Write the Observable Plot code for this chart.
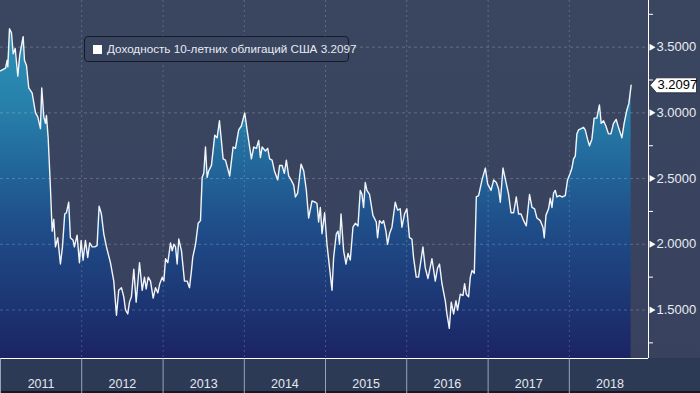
<!DOCTYPE html>
<html><head><meta charset="utf-8">
<script src="https://cdn.jsdelivr.net/npm/d3@7"></script>
<script src="https://cdn.jsdelivr.net/npm/@observablehq/plot@0.6"></script>
<style>
html,body{margin:0;padding:0;background:#39445f;}
#chart{position:relative;width:700px;height:393px;overflow:hidden;font-family:"Liberation Sans",Arial,sans-serif;}
#legend{position:absolute;left:84px;top:36px;width:265px;height:26px;border:1px solid #141b2a;border-radius:4px;background:#39445f;box-sizing:border-box;color:#e8ebf0;font-family:"Liberation Sans",Arial,sans-serif;font-size:11.7px;line-height:24px;white-space:pre;}
#legend .sw{position:absolute;left:8px;top:8px;width:9px;height:9px;background:#fff;}
#legend .tx{position:absolute;left:22px;top:0;}
</style></head><body><div id="chart"></div>
<script>
// decimal-year dates of the observations
const dates = [
2011.000,2011.062,2011.082,2011.090,2011.111,2011.135,2011.156,2011.181,2011.213,2011.237,2011.279,2011.295,2011.320,2011.348,2011.390,2011.431,2011.459,2011.492,2011.508,2011.533,2011.554,2011.566,2011.587,2011.615,2011.636,2011.656,2011.677,2011.705,2011.738,2011.763,2011.791,2011.812,2011.840,2011.861,2011.894,2011.910,2011.943,2011.972,2011.993,
2012.017,2012.046,2012.074,2012.098,2012.128,2012.160,2012.189,2012.214,2012.242,2012.271,2012.304,2012.353,2012.394,2012.427,2012.455,2012.488,2012.517,2012.538,2012.566,2012.587,2012.611,2012.640,2012.669,2012.710,2012.743,2012.771,2012.792,2012.817,2012.845,2012.878,2012.907,2012.935,2012.959,2012.989,
2013.009,2013.030,2013.058,2013.091,2013.112,2013.132,2013.153,2013.173,2013.193,2013.226,2013.263,2013.296,2013.325,2013.349,2013.365,2013.399,2013.432,2013.460,2013.481,2013.501,2013.522,2013.542,2013.562,2013.595,2013.636,2013.665,2013.694,2013.739,2013.768,2013.820,2013.862,2013.891,2013.931,2013.964,
2014.005,2014.034,2014.087,2014.116,2014.149,2014.177,2014.198,2014.219,2014.260,2014.288,2014.312,2014.342,2014.370,2014.411,2014.435,2014.465,2014.493,2014.518,2014.546,2014.576,2014.608,2014.629,2014.657,2014.699,2014.731,2014.764,2014.792,2014.834,2014.875,2014.895,2014.915,2014.936,2014.957,2014.989,
2015.018,2015.050,2015.080,2015.100,2015.133,2015.154,2015.173,2015.191,2015.223,2015.252,2015.277,2015.305,2015.338,2015.367,2015.400,2015.428,2015.449,2015.469,2015.490,2015.510,2015.542,2015.584,2015.625,2015.641,2015.665,2015.695,2015.715,2015.744,2015.764,2015.788,2015.818,2015.859,2015.887,2015.920,2015.941,2015.973,
2016.002,2016.034,2016.064,2016.084,2016.117,2016.145,2016.199,2016.228,2016.261,2016.310,2016.351,2016.379,2016.403,2016.433,2016.474,2016.494,2016.523,2016.547,2016.576,2016.605,2016.625,2016.658,2016.691,2016.711,2016.732,2016.760,2016.781,2016.802,2016.830,2016.855,2016.883,2016.925,2016.966,2016.994,
2017.036,2017.068,2017.101,2017.129,2017.150,2017.183,2017.224,2017.252,2017.282,2017.314,2017.347,2017.375,2017.405,2017.437,2017.470,2017.510,2017.540,2017.572,2017.601,2017.642,2017.675,2017.691,2017.712,2017.744,2017.765,2017.786,2017.806,2017.827,2017.847,2017.879,2017.909,2017.950,2017.978,
2018.011,2018.032,2018.052,2018.073,2018.093,2018.113,2018.146,2018.175,2018.196,2018.224,2018.248,2018.278,2018.306,2018.339,2018.371,2018.392,2018.421,2018.450,2018.482,2018.512,2018.544,2018.577,2018.605,2018.647,2018.675,2018.708,2018.733,2018.761
];
// 10-year US Treasury yield, %
const yields = [
3.32,3.34,3.40,3.35,3.64,3.61,3.45,3.49,3.28,3.44,3.58,3.40,3.36,3.19,3.15,3.00,2.97,2.88,3.19,2.97,2.92,2.98,2.81,2.43,2.10,2.19,1.98,2.05,1.85,1.98,2.23,2.24,2.32,2.05,2.03,1.98,2.07,1.86,2.03,
1.88,2.03,1.90,2.01,1.98,1.98,1.99,2.29,2.23,2.08,1.98,1.86,1.72,1.46,1.65,1.67,1.60,1.50,1.47,1.56,1.60,1.81,1.56,1.86,1.65,1.75,1.66,1.75,1.72,1.59,1.67,1.63,1.70,1.75,
1.72,1.89,1.86,2.01,1.95,2.00,1.98,1.85,2.04,1.95,1.72,1.72,1.67,1.80,1.90,2.00,2.16,2.18,2.51,2.54,2.74,2.51,2.56,2.60,2.83,2.81,2.94,2.65,2.64,2.52,2.74,2.73,2.87,2.90,
3.00,2.87,2.65,2.74,2.73,2.79,2.66,2.74,2.71,2.73,2.65,2.64,2.56,2.49,2.60,2.60,2.54,2.64,2.52,2.49,2.45,2.36,2.39,2.61,2.56,2.41,2.20,2.33,2.32,2.31,2.17,2.28,2.08,2.24,
2.00,1.82,1.65,1.90,2.08,2.10,2.00,2.23,1.95,1.85,1.93,1.88,2.13,2.16,2.14,2.41,2.38,2.28,2.47,2.41,2.38,2.22,2.17,2.05,2.18,2.16,2.18,2.10,2.00,2.08,2.13,2.32,2.26,2.27,2.13,2.23,
2.27,2.05,2.04,1.90,1.75,1.75,1.98,1.82,1.74,1.89,1.72,1.82,1.85,1.70,1.57,1.47,1.36,1.56,1.47,1.57,1.50,1.62,1.61,1.70,1.62,1.60,1.75,1.80,1.78,2.36,2.37,2.49,2.58,2.46,
2.41,2.49,2.47,2.42,2.32,2.58,2.46,2.38,2.24,2.24,2.36,2.23,2.23,2.18,2.14,2.38,2.28,2.27,2.20,2.18,2.13,2.05,2.22,2.27,2.35,2.28,2.39,2.41,2.36,2.37,2.36,2.37,2.49,
2.54,2.58,2.65,2.67,2.84,2.87,2.88,2.89,2.87,2.80,2.75,2.80,2.96,2.96,3.06,2.92,2.94,2.90,2.84,2.84,2.92,2.95,2.89,2.81,2.92,3.02,3.07,3.2097
];
const yearLabels = [2011, 2012, 2013, 2014, 2015, 2016, 2017, 2018];
const yTicks = [1.5, 2.0, 2.5, 3.0, 3.5];
const yMinorTicks = [1.25, 1.75, 2.25, 2.75, 3.25, 3.75];
const legendLabel = "Доходность 10-летних облигаций США";
const lastValue = 3.2097;
const yDomain = [1.131, 3.855];
const xDomainYears = [2011.0, 2018.975];

const toDate = t => {
  const y = Math.floor(t);
  const a = Date.UTC(y, 0, 1), b = Date.UTC(y + 1, 0, 1);
  return new Date(a + (t - y) * (b - a));
};
const data = dates.map((t, i) => ({date: toDate(t), value: yields[i]}));
const endDate = toDate(xDomainYears[1]);
const last = data[data.length - 1];

const arrowSym = {draw(ctx) { ctx.moveTo(0, -3.5); ctx.lineTo(6, 0); ctx.lineTo(0, 3.5); ctx.closePath(); }};
const minorSym = {draw(ctx) { ctx.moveTo(0, 0); ctx.lineTo(4.5, 0); }};
const dividerSym = {draw(ctx) { ctx.moveTo(0, 0); ctx.lineTo(0, 35); }};
const tagSym = {draw(ctx) { ctx.moveTo(1.5, 0); ctx.lineTo(8, -7.5); ctx.lineTo(48, -7.5); ctx.lineTo(48, 7.5); ctx.lineTo(8, 7.5); ctx.closePath(); }};

const plot = Plot.plot({
  width: 700, height: 393,
  marginLeft: 0, marginTop: 0, marginRight: 52, marginBottom: 35,
  x: {type: "utc", domain: [toDate(xDomainYears[0]), endDate], axis: null},
  y: {domain: yDomain, axis: null},
  style: {
    background: "linear-gradient(to bottom, #3a4560 0px, #38425e 358px, #2d3a56 358px, #2d3a56 391px, #141923 391px)",
    fontFamily: "'Liberation Sans', Arial, sans-serif"
  },
  marks: [
    Plot.areaY(data, {x: "date", y1: () => yDomain[0], y2: "value", fill: "url(#yieldGrad)", curve: "linear"}),
    Plot.ruleY(yTicks, {stroke: "#ffffff", strokeOpacity: 0.22, strokeDasharray: "3,3"}),
    Plot.ruleX(yearLabels.slice(1), {x: d => toDate(d), stroke: "#ffffff", strokeOpacity: 0.2, strokeDasharray: "2,3"}),
    Plot.line(data, {x: "date", y: "value", stroke: "#f2f5fa", strokeWidth: 1.4}),
    Plot.ruleX([endDate], {x: d => d, stroke: "#ffffff", strokeWidth: 1}),
    Plot.ruleY([yDomain[0]], {stroke: "#ffffff", strokeWidth: 1}),
    Plot.dot(yTicks, {x: () => endDate, y: d => d, symbol: arrowSym, fill: "#ffffff", stroke: null, dx: 1}),
    Plot.dot(yMinorTicks, {x: () => endDate, y: d => d, symbol: minorSym, stroke: "#ffffff", fill: "none", strokeWidth: 1}),
    Plot.text(yTicks, {x: () => endDate, y: d => d, text: d => d.toFixed(4), textAnchor: "start", dx: 8, fill: "#e8ecf2", fontSize: 13}),
    Plot.dot(yearLabels, {x: d => toDate(d), y: () => yDomain[0], symbol: dividerSym, stroke: "#9aa3b6", fill: "none", strokeWidth: 1}),
    Plot.text(yearLabels, {x: d => toDate(d + 0.5), y: () => yDomain[0], dy: 25, text: d => String(d), fill: "#e4e8ef", fontSize: 12.5}),
    Plot.dot([last], {x: () => endDate, y: "value", symbol: tagSym, fill: "#ffffff", stroke: "#1a2030", strokeWidth: 0.8}),
    Plot.text([last], {x: () => endDate, y: "value", text: d => d.value.toFixed(4), textAnchor: "start", dx: 9, fill: "#000000", fontSize: 13})
  ]
});

const svg = d3.select(plot);
const defs = svg.insert("defs", ":first-child");
const grad = defs.append("linearGradient").attr("id", "yieldGrad")
  .attr("gradientUnits", "userSpaceOnUse").attr("x1", 0).attr("x2", 0).attr("y1", 0).attr("y2", 358);
[[0, "#3199bd"], [0.3, "#2680aa"], [0.62, "#1f4f8a"], [1, "#1b2464"]].forEach(([o, c]) =>
  grad.append("stop").attr("offset", o).attr("stop-color", c));

const chart = document.getElementById("chart");
chart.appendChild(plot);
const legend = document.createElement("div");
legend.id = "legend";
legend.innerHTML = `<div class="sw"></div><div class="tx"></div>`;
legend.querySelector(".tx").textContent = legendLabel + " " + lastValue.toFixed(4);
chart.appendChild(legend);
</script></body></html>
